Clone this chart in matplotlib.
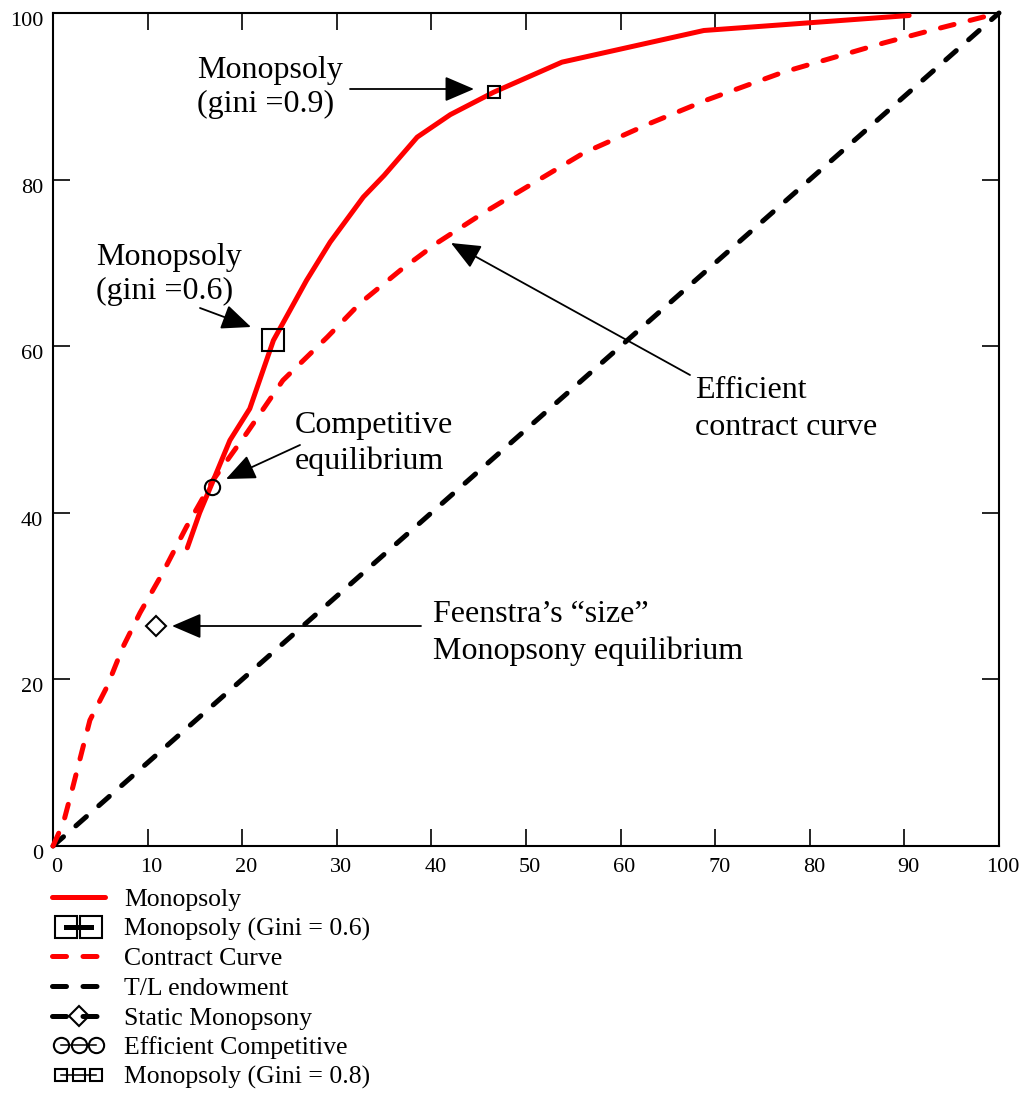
import matplotlib
matplotlib.use('Agg')
import matplotlib.pyplot as plt
from matplotlib.legend_handler import HandlerLine2D
from matplotlib.transforms import ScaledTranslation

plt.rcParams['font.family'] = ['Liberation Serif', 'DejaVu Serif']

# ---------------- data ----------------
mono_x = [14.2, 15.5, 16.8, 18.7, 20.8, 23.3, 26.8, 29.3, 32.8, 35.0, 38.5, 42.0, 46.6, 53.8, 68.8, 90.5]
mono_y = [35.8, 40.0, 43.5, 48.7, 52.5, 60.7, 67.9, 72.5, 77.9, 80.5, 85.1, 87.8, 90.5, 94.1, 97.9, 99.7]

contract_x = [0, 1.1, 2.1, 3.9, 5.7, 7.4, 9.2, 11.6, 14.1, 16.9, 20.5, 24.3, 29.0, 32.5, 36.7,
              40.6, 45.5, 50.8, 56.1, 63.2, 69.2, 77.2, 87.8, 93.1, 100]
contract_y = [0, 2.8, 7.1, 15.1, 19.1, 23.9, 28.0, 32.8, 38.3, 43.9, 49.6, 55.9, 61.1, 65.2, 69.1,
              72.4, 76.0, 79.6, 83.2, 86.8, 89.6, 92.9, 96.4, 98.0, 100]

tl_x = [0, 25, 50, 75, 100]
tl_y = [0, 25, 50, 75, 100]

gini06_x, gini06_y = [23.3], [60.7]
gini08_x, gini08_y = [46.6], [90.5]
comp_x, comp_y = [16.8], [43.1]
static_x, static_y = [10.9], [26.4]

xticks = [0, 10, 20, 30, 40, 50, 60, 70, 80, 90, 100]
yticks = [0, 20, 40, 60, 80, 100]

# ---------------- figure ----------------
W, H = 1029, 1097
fig = plt.figure(figsize=(W / 100, H / 100), dpi=100)
ax = fig.add_axes([53 / W, 1 - 846 / H, (999 - 53) / W, (846 - 13) / H])
ax.set_xlim(0, 100)
ax.set_ylim(0, 100)

RED = '#ff0000'
LW = 3.6
DASH = (2.8, 3.3)

l_mono, = ax.plot(mono_x, mono_y, color=RED, lw=LW, solid_capstyle='round',
                  solid_joinstyle='round', clip_on=False, zorder=3)
l_con, = ax.plot(contract_x, contract_y, color=RED, lw=LW, dashes=DASH,
                 dash_capstyle='round', clip_on=False, zorder=3)
l_tl, = ax.plot(tl_x, tl_y, color='black', lw=LW, dashes=DASH,
                dash_capstyle='round', clip_on=False, zorder=2)

l_g06, = ax.plot(gini06_x, gini06_y, color='black', lw=LW, marker='s', ms=16,
                 mfc='none', mec='black', mew=1.5, zorder=5)
l_static, = ax.plot(static_x, static_y, color='black', lw=LW, dashes=DASH,
                    dash_capstyle='round', marker='D', ms=10, mfc='none',
                    mec='black', mew=1.5, zorder=5)
l_comp, = ax.plot(comp_x, comp_y, color='black', lw=1.1, marker='o', ms=11,
                  mfc='none', mec='black', mew=1.5, zorder=5)
l_g08, = ax.plot(gini08_x, gini08_y, color='black', lw=1.1, marker='s', ms=8,
                 mfc='none', mec='black', mew=1.5, zorder=5)

# axes style
for s in ax.spines.values():
    s.set_linewidth(1.5)
ax.set_xticks(xticks)
ax.set_yticks(yticks)
ax.tick_params(direction='in', length=12, width=1.2, labelsize=16,
               top=True, right=True, pad=7)
ax.tick_params(axis='x', pad=9)
for lab in ax.get_yticklabels():
    lab.set_transform(lab.get_transform() + ScaledTranslation(0, -6 / 100, fig.dpi_scale_trans))
for lab in ax.get_xticklabels():
    lab.set_transform(lab.get_transform() + ScaledTranslation(4 / 100, 0, fig.dpi_scale_trans))


# ---------------- annotations ----------------
def px2d(px, py):
    return ((px - 53) / 9.46, (846 - py) / 8.33)


def label(lines, px, py, spacing=37):
    for i, t in enumerate(lines):
        ax.text(*px2d(px, py + i * spacing), t, fontsize=23, ha='left',
                va='baseline', zorder=6)


def arrow(tail, tip):
    ax.annotate('', xy=px2d(*tip), xytext=px2d(*tail),
                arrowprops=dict(arrowstyle='-|>,head_length=0.7,head_width=0.3',
                                mutation_scale=26, lw=1.3, color='black',
                                shrinkA=0, shrinkB=0), zorder=6)


label(['Monopsoly', '(gini =0.9)'], 197, 78, 34)
arrow((350, 89), (474, 89))
label(['Monopsoly', '(gini =0.6)'], 96, 265, 34)
arrow((200, 308), (251, 327))
label(['Competitive', 'equilibrium'], 295, 433, 36)
arrow((300, 445), (226, 479))
label(['Efficient', 'contract curve'], 695, 398, 37)
arrow((690, 375), (451, 243))
label(['Feenstra\u2019s \u201csize\u201d', 'Monopsony equilibrium'], 433, 622, 37)
arrow((421, 626), (172, 626))

# ---------------- legend ----------------
handles = [l_mono, l_g06, l_con, l_tl, l_static, l_comp, l_g08]
labels = ['Monopsoly', 'Monopsoly (Gini = 0.6)', 'Contract Curve', 'T/L endowment',
          'Static Monopsony', 'Efficient Competitive', 'Monopsoly (Gini = 0.8)']
hmap = {l_g06: HandlerLine2D(numpoints=2, marker_pad=0.55),
        l_comp: HandlerLine2D(numpoints=3, marker_pad=0.35),
        l_g08: HandlerLine2D(numpoints=3, marker_pad=0.35)}
fig.legend(handles, labels, handler_map=hmap, loc='upper left',
           bbox_to_anchor=(52 / W, 1 - 888 / H), frameon=False, fontsize=18.5,
           handlelength=2.07, handletextpad=0.74, labelspacing=0.255,
           borderpad=0, borderaxespad=0, numpoints=1)

fig.savefig('out.png', dpi=100)
